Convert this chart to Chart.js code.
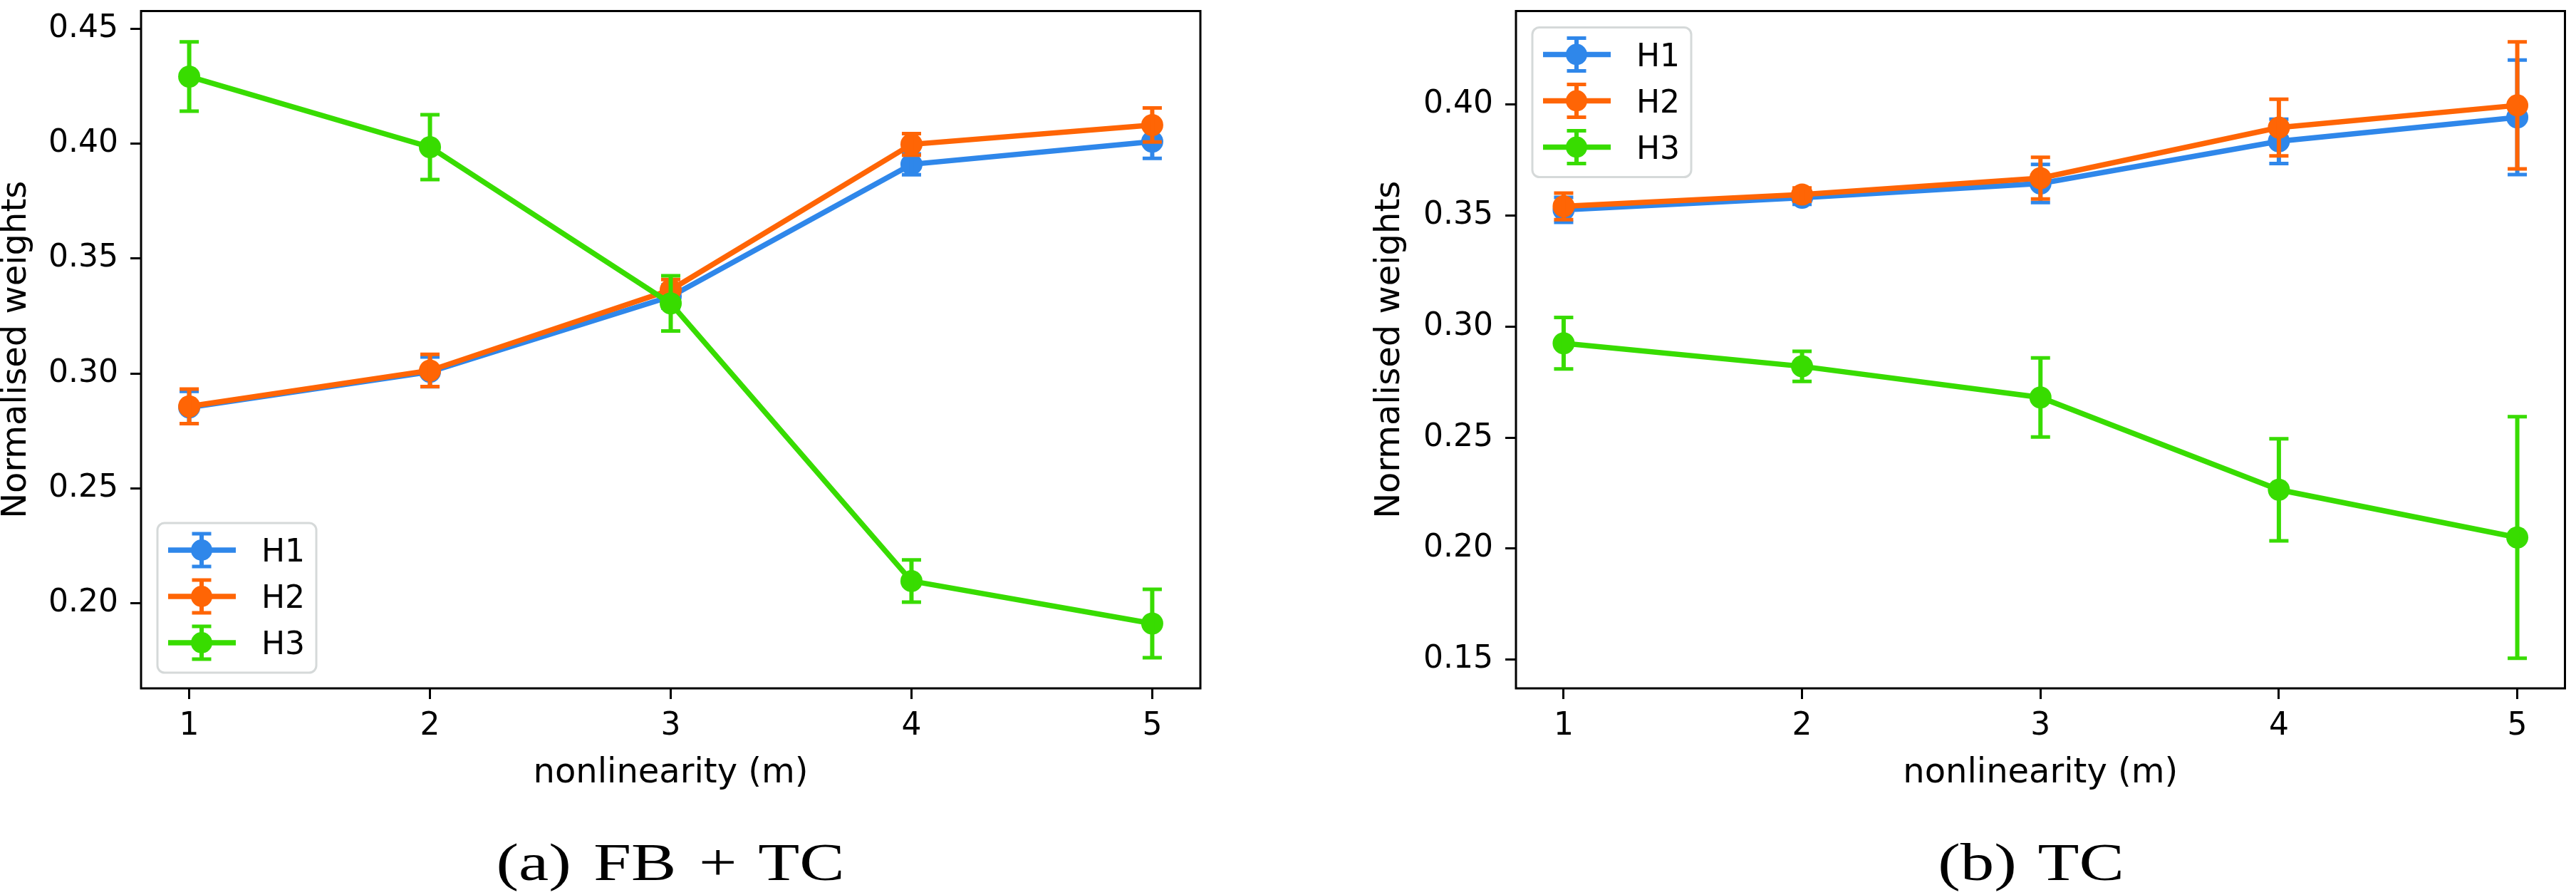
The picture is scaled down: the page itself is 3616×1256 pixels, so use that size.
<!DOCTYPE html>
<html>
<head>
<meta charset="utf-8">
<script src="https://cdn.jsdelivr.net/npm/chart.js@4.4.1/dist/chart.umd.min.js"></script>
<style>
  html, body { margin: 0; padding: 0; background: #fff; }
  body { width: 3616px; height: 1256px; position: relative; overflow: hidden; }
  canvas { position: absolute; top: 0; }
  .caption {
    position: absolute; top: 1175px; line-height: 72px;
    font-family: 'Liberation Serif', 'DejaVu Serif', serif; font-size: 73px;
    word-spacing: 6px;
    white-space: nowrap; transform: translateX(-50%) scaleX(1.3); color: #000;
  }
</style>
</head>
<body>
<canvas id="chartA" width="1760" height="1256" style="left:0px"></canvas>
<canvas id="chartB" width="1796" height="1256" style="left:1820px"></canvas>
<div class="caption" style="left:941px">(a) FB + TC</div>
<div class="caption" style="left:2851px">(b) TC</div>

<script>
// nonlinearity values on the x axis
const xVals = [1, 2, 3, 4, 5];
const xTicks = [1, 2, 3, 4, 5];
const seriesNames = ['H1', 'H2', 'H3'];
const colors = ['#2f87ea', '#ff6505', '#38dc00'];

// (a) FB + TC
const aH1 = [0.2852, 0.3007, 0.3335, 0.3910, 0.4009];
const aH1Err = [0.0070, 0.0065, 0.0050, 0.0045, 0.0073];
const aH2 = [0.2857, 0.3013, 0.3364, 0.3997, 0.4081];
const aH2Err = [0.0075, 0.0070, 0.0045, 0.0047, 0.0074];
const aH3 = [0.4292, 0.3985, 0.3305, 0.2097, 0.1912];
const aH3Err = [0.0151, 0.0141, 0.0120, 0.0092, 0.0149];
const aYTicks = [0.20, 0.25, 0.30, 0.35, 0.40, 0.45];
const aYRange = [0.163, 0.4577];

// (b) TC
const bH1 = [0.3526, 0.3581, 0.3645, 0.3835, 0.3943];
const bH1Err = [0.0056, 0.0030, 0.0086, 0.0100, 0.0258];
const bH2 = [0.3542, 0.3595, 0.3669, 0.3897, 0.3997];
const bH2Err = [0.0060, 0.0030, 0.0094, 0.0128, 0.0286];
const bH3 = [0.2925, 0.2821, 0.2681, 0.2265, 0.2050];
const bH3Err = [0.0116, 0.0068, 0.0178, 0.0230, 0.0544];
const bYTicks = [0.15, 0.20, 0.25, 0.30, 0.35, 0.40];
const bYRange = [0.137, 0.4422];

const FONT = "'DejaVu Sans', sans-serif";

// vertical error bars with caps, drawn right after each dataset
const errorBars = {
  id: 'errorBars',
  afterDatasetDraw(chart, args) {
    const ds = chart.data.datasets[args.index];
    const ys = chart.scales.y;
    const ctx = chart.ctx;
    ctx.save();
    ctx.strokeStyle = ds.borderColor;
    args.meta.data.forEach((pt, j) => {
      const v = ds.data[j].y, e = ds.err[j];
      const top = ys.getPixelForValue(v + e);
      const bot = ys.getPixelForValue(v - e);
      ctx.lineWidth = 6;
      ctx.beginPath();
      ctx.moveTo(pt.x, top); ctx.lineTo(pt.x, bot);
      ctx.stroke();
      ctx.lineWidth = 5;
      ctx.beginPath();
      ctx.moveTo(pt.x - 13.5, top); ctx.lineTo(pt.x + 13.5, top);
      ctx.moveTo(pt.x - 13.5, bot); ctx.lineTo(pt.x + 13.5, bot);
      ctx.stroke();
    });
    ctx.restore();
  }
};

// full box around the axes
const frame = {
  id: 'frame',
  afterDatasetsDraw(chart) {
    const { ctx, chartArea: ca } = chart;
    ctx.save();
    ctx.strokeStyle = '#000';
    ctx.lineWidth = 3;
    ctx.strokeRect(ca.left, ca.top, ca.right - ca.left, ca.bottom - ca.top);
    ctx.restore();
  }
};

// matplotlib-like legend with errorbar glyphs
const legendBox = {
  id: 'legendBox',
  afterDatasetsDraw(chart, args, opts) {
    const { ctx, chartArea: ca } = chart;
    const w = 223, h = 210;
    const x0 = ca.left + 23;
    const y0 = opts.corner === 'top' ? ca.top + 23 : ca.bottom - 22 - h;
    ctx.save();
    ctx.beginPath();
    ctx.roundRect(x0, y0, w, h, 10);
    ctx.fillStyle = 'rgba(255,255,255,0.8)';
    ctx.fill();
    ctx.lineWidth = 3;
    ctx.strokeStyle = '#d5d9d9';
    ctx.stroke();
    chart.data.datasets.forEach((ds, i) => {
      const cy = y0 + 38 + i * 65;
      const cx = x0 + 62;
      ctx.strokeStyle = ds.borderColor;
      ctx.lineWidth = 7.5;
      ctx.beginPath();
      ctx.moveTo(x0 + 15, cy); ctx.lineTo(x0 + 110, cy);
      ctx.stroke();
      ctx.lineWidth = 6;
      ctx.beginPath();
      ctx.moveTo(cx, cy - 23); ctx.lineTo(cx, cy + 23);
      ctx.stroke();
      ctx.lineWidth = 5;
      ctx.beginPath();
      ctx.moveTo(cx - 13.5, cy - 23); ctx.lineTo(cx + 13.5, cy - 23);
      ctx.moveTo(cx - 13.5, cy + 23); ctx.lineTo(cx + 13.5, cy + 23);
      ctx.stroke();
      ctx.fillStyle = ds.borderColor;
      ctx.beginPath();
      ctx.arc(cx, cy, 15, 0, Math.PI * 2);
      ctx.fill();
      ctx.fillStyle = '#000';
      ctx.font = '44px ' + FONT;
      ctx.textBaseline = 'alphabetic';
      ctx.fillText(ds.label, x0 + 146, cy + 16);
    });
    ctx.restore();
  }
};

function makeDatasets(vals, errs) {
  return vals.map((v, i) => ({
    label: seriesNames[i],
    data: xVals.map((x, j) => ({ x: x, y: v[j] })),
    err: errs[i],
    borderColor: colors[i],
    backgroundColor: colors[i],
    pointBackgroundColor: colors[i],
    pointBorderColor: colors[i],
    pointBorderWidth: 0,
    pointRadius: 15.5,
    pointHoverRadius: 15.5,
    borderWidth: 7.5,
    tension: 0,
    order: 3 - i
  }));
}

function makePanel(id, vals, errs, yTicks, yRange, padLeft, padRight, yWidth, corner) {
  new Chart(document.getElementById(id), {
    type: 'line',
    data: { datasets: makeDatasets(vals, errs) },
    options: {
      responsive: false,
      animation: false,
      devicePixelRatio: 1,
      layout: { padding: { left: padLeft, right: padRight, top: 2, bottom: 140 } },
      plugins: {
        legend: { display: false },
        tooltip: { enabled: false },
        legendBox: { corner: corner }
      },
      scales: {
        x: {
          type: 'linear',
          min: 0.8, max: 5.2,
          afterBuildTicks: s => { s.ticks = xTicks.map(v => ({ value: v })); },
          afterFit: s => { s.height = 150; s.paddingLeft = 0; s.paddingRight = 0; },
          grid: { drawOnChartArea: false, drawTicks: true, tickLength: 15, tickWidth: 3, tickColor: '#000' },
          border: { display: false },
          ticks: { color: '#000', font: { family: FONT, size: 44, lineHeight: 1.2 }, padding: 12, maxRotation: 0 },
          title: { display: true, text: 'nonlinearity (m)', color: '#000',
                   font: { family: FONT, size: 48, lineHeight: 1 }, padding: { top: 0, bottom: 6 } }
        },
        y: {
          type: 'linear',
          min: yRange[0], max: yRange[1],
          afterBuildTicks: s => { s.ticks = yTicks.map(v => ({ value: v })); },
          afterFit: s => { s.width = yWidth; s.paddingTop = 0; s.paddingBottom = 0; },
          grid: { drawOnChartArea: false, drawTicks: true, tickLength: 15, tickWidth: 3, tickColor: '#000' },
          border: { display: false },
          ticks: { color: '#000', font: { family: FONT, size: 44, lineHeight: 1.2 }, padding: 17,
                   callback: v => v.toFixed(2) },
          title: { display: true, text: 'Normalised weights', color: '#000',
                   font: { family: FONT, size: 48, lineHeight: 1 }, padding: { top: 0, bottom: 0 } }
        }
      }
    },
    plugins: [errorBars, frame, legendBox]
  });
}

makePanel('chartA', [aH1, aH2, aH3], [aH1Err, aH2Err, aH3Err], aYTicks, aYRange, 0, 75, 198, 'bottom');
makePanel('chartB', [bH1, bH2, bH3], [bH1Err, bH2Err, bH3Err], bYTicks, bYRange, 108, 3, 200, 'top');
</script>
</body>
</html>
